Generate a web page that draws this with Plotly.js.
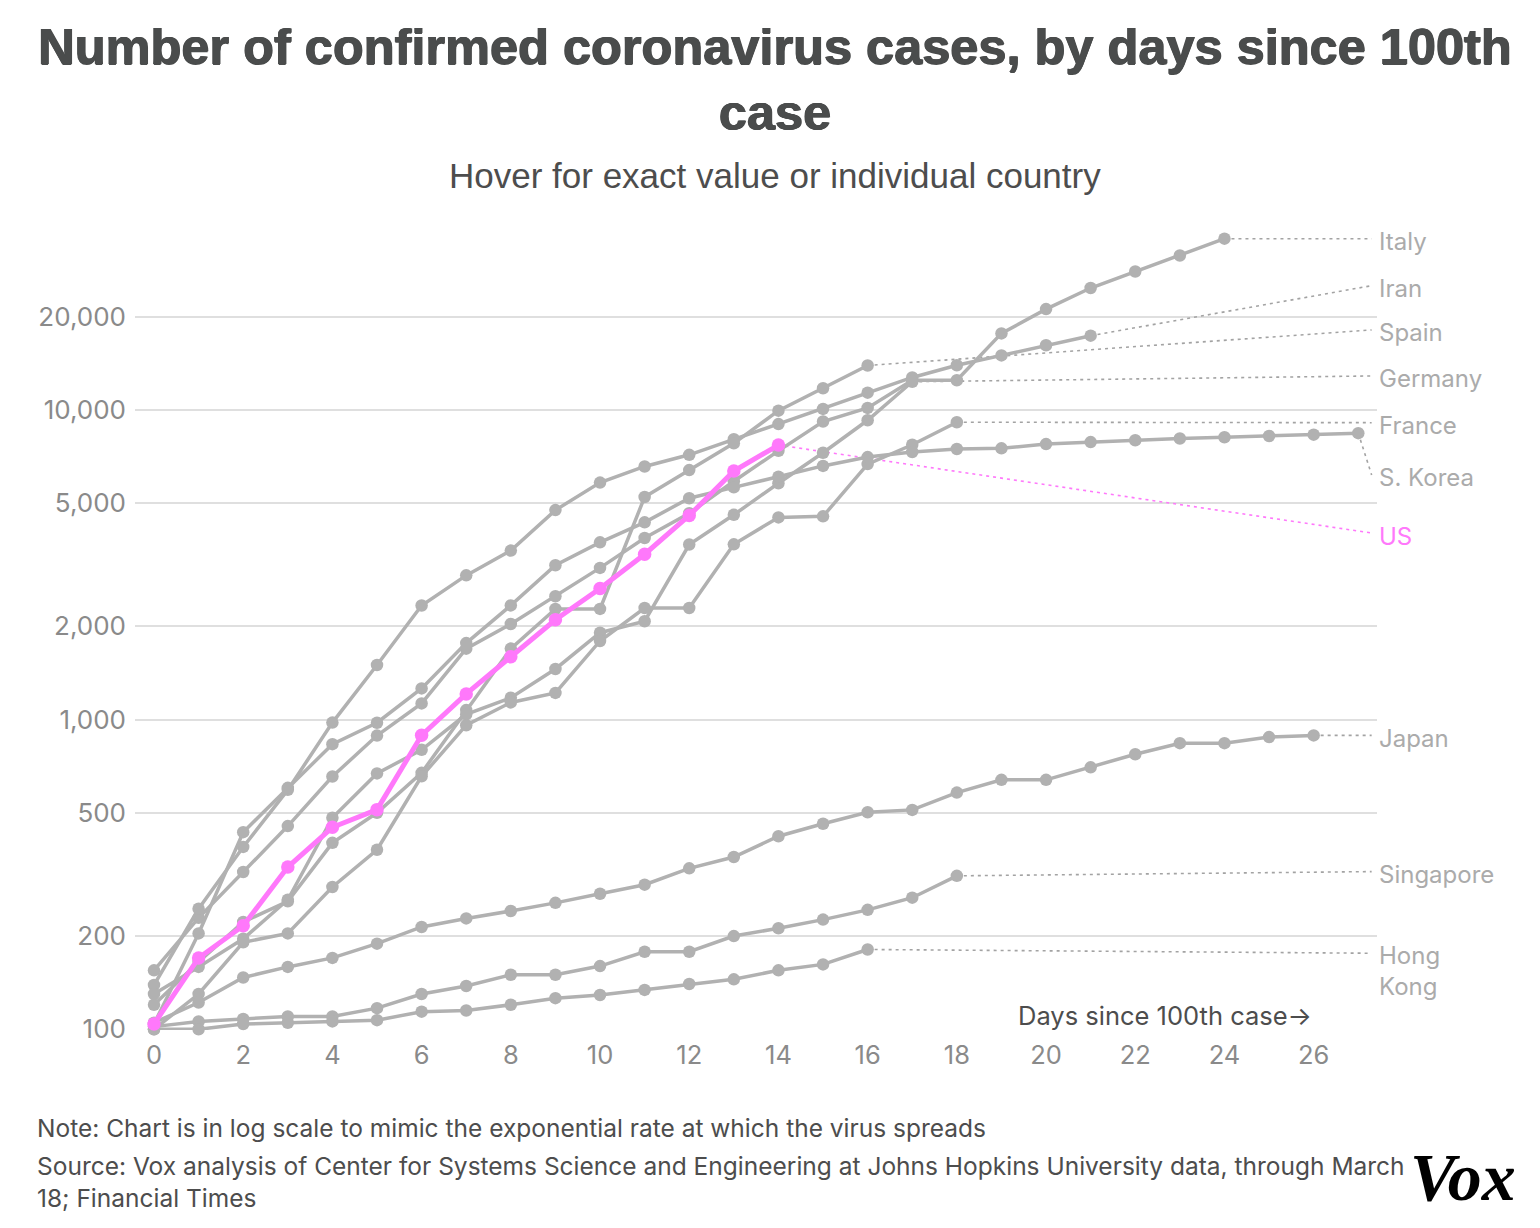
<!DOCTYPE html>
<html>
<head>
<meta charset="utf-8">
<script src="https://cdn.plot.ly/plotly-3.0.1.min.js"></script>
<style>
  html, body { margin: 0; padding: 0; background: #ffffff; }
  #chart { width: 1540px; height: 1228px; }
</style>
</head>
<body>
<div id="chart"></div>
<script>
// ---------------- DATA ----------------
const countries = ['Italy', 'Iran', 'Spain', 'Germany', 'France', 'S. Korea', 'US', 'Japan', 'Singapore', 'Hong Kong'];
const labelText = ['Italy', 'Iran', 'Spain', 'Germany', 'France', 'S. Korea', 'US', 'Japan', 'Singapore', 'Hong<br>Kong'];

// confirmed cases, index = days since 100th case
const italy = [155, 229, 322, 453, 655, 888, 1128, 1694, 2036, 2502, 3089, 3858, 4636, 5883, 7375, 9172, 10149, 12462, 12462, 17660, 21157, 24747, 27980, 31506, 35713];
const iran = [139, 245, 388, 593, 978, 1501, 2336, 2922, 3513, 4747, 5823, 6566, 7161, 8042, 9000, 10075, 11364, 12729, 13938, 14991, 16169, 17361];
const spain = [120, 165, 222, 259, 400, 500, 673, 1073, 1695, 2277, 2277, 5232, 6391, 7798, 9942, 11748, 13910];
const germany = [130, 159, 196, 262, 482, 670, 799, 1040, 1176, 1457, 1908, 2078, 3675, 4585, 5795, 7272, 9257, 12327];
const france = [100, 130, 191, 204, 288, 380, 656, 959, 1136, 1219, 1794, 2293, 2293, 3681, 4496, 4532, 6683, 7715, 9124];
const sKorea = [104, 204, 433, 602, 833, 977, 1261, 1766, 2337, 3150, 3736, 4335, 5186, 5621, 6088, 6593, 7041, 7314, 7478, 7513, 7755, 7869, 7979, 8086, 8162, 8236, 8320, 8413];
const us = [104, 170, 216, 334, 449, 512, 890, 1210, 1595, 2100, 2650, 3420, 4560, 6350, 7700];
const japan = [105, 122, 147, 159, 170, 189, 214, 228, 241, 256, 274, 293, 331, 360, 420, 461, 502, 511, 581, 639, 639, 701, 773, 839, 839, 878, 889];
const singapore = [102, 106, 108, 110, 110, 117, 130, 138, 150, 150, 160, 178, 178, 200, 212, 226, 243, 266, 313];
const hongKong = [100, 100, 104, 105, 106, 107, 114, 115, 120, 126, 129, 134, 140, 145, 155, 162, 181];

const seriesValues = [italy, iran, spain, germany, france, sKorea, us, japan, singapore, hongKong];

// value where each dotted leader line meets its country label
const labelAnchor = [35713, 25180, 18120, 12870, 9093, 6164, 4004, 889, 323, 176];
const labelDay = 27.3;

const yTickVals = [100, 200, 500, 1000, 2000, 5000, 10000, 20000];
const yTickText = ['100', '200', '500', '1,000', '2,000', '5,000', '10,000', '20,000'];
const xTickVals = [0, 2, 4, 6, 8, 10, 12, 14, 16, 18, 20, 22, 24, 26];
const xTickText = ['0', '2', '4', '6', '8', '10', '12', '14', '16', '18', '20', '22', '24', '26'];

// ---------------- STYLE ----------------
const GRAY = '#b1b1b1';
const PINK = '#ff78fb';
const LEADER = '#a3a3a3';
const highlight = 'US';
const BODY_FONT = 'Inter, "Noto Sans", sans-serif';
const TITLE_COLOR = '#4a4c4c';

// plot area in pixels
const PL = 135, PT = 225, PW = 1242, PH = 805;
const px = x => (x - PL) / PW;
const py = y => (PT + PH - y) / PH;

const traces = [];

// leader (dotted) lines first
countries.forEach((c, i) => {
  const vals = seriesValues[i];
  const last = vals.length - 1;
  traces.push({
    type: 'scatter', mode: 'lines',
    x: [last, labelDay], y: [vals[last], labelAnchor[i]],
    line: { color: c === highlight ? PINK : LEADER, width: 1.6, dash: '3px,4px' },
    hoverinfo: 'skip', showlegend: false, cliponaxis: false
  });
});

// gray country lines
countries.forEach((c, i) => {
  if (c === highlight) return;
  const vals = seriesValues[i];
  traces.push({
    type: 'scatter', mode: 'lines+markers', name: c,
    x: vals.map((_, d) => d), y: vals,
    line: { color: GRAY, width: 3.5 },
    marker: { color: GRAY, size: 12.5 },
    showlegend: false, cliponaxis: false,
    hovertemplate: c + '<br>Day %{x}: %{y:,}<extra></extra>'
  });
});

// highlighted US line on top
{
  const i = countries.indexOf(highlight);
  const vals = seriesValues[i];
  traces.push({
    type: 'scatter', mode: 'lines+markers', name: highlight,
    x: vals.map((_, d) => d), y: vals,
    line: { color: PINK, width: 5 },
    marker: { color: PINK, size: 13.5 },
    showlegend: false, cliponaxis: false,
    hovertemplate: highlight + '<br>Day %{x}: %{y:,}<extra></extra>'
  });
}

const annotations = [];

// country labels
countries.forEach((c, i) => {
  const isHK = c === 'Hong Kong';
  annotations.push({
    xref: 'x', yref: 'y', x: labelDay, y: Math.log10(labelAnchor[i]),
    text: labelText[i], showarrow: false,
    xanchor: 'left', yanchor: isHK ? 'top' : 'middle', align: 'left',
    xshift: 5, yshift: isHK ? 14 : -3,
    font: { family: BODY_FONT, size: 24, color: c === highlight ? PINK : '#ababab' }
  });
});

// subtitle
annotations.push({
  xref: 'paper', yref: 'paper', x: px(775), y: py(175),
  text: 'Hover for exact value or individual country', showarrow: false,
  xanchor: 'center', yanchor: 'middle',
  font: { family: '"Liberation Sans", Arial, sans-serif', size: 35, color: '#4d4d4d' }
});
// axis note
annotations.push({
  xref: 'paper', yref: 'paper', x: px(1314), y: py(1015),
  text: 'Days since 100th case→', showarrow: false,
  xanchor: 'right', yanchor: 'middle',
  font: { family: BODY_FONT, size: 25.5, color: '#4d4d4d' }
});
// footer note
annotations.push({
  xref: 'paper', yref: 'paper', x: px(35), y: py(1128),
  text: 'Note: Chart is in log scale to mimic the exponential rate at which the virus spreads', showarrow: false,
  xanchor: 'left', yanchor: 'middle', align: 'left',
  font: { family: BODY_FONT, size: 24.5, color: '#4d4d4d' }
});
// footer source
annotations.push({
  xref: 'paper', yref: 'paper', x: px(35), y: py(1149),
  text: 'Source: Vox analysis of Center for Systems Science and Engineering at Johns Hopkins University data, through March<br>18; Financial Times',
  showarrow: false, xanchor: 'left', yanchor: 'top', align: 'left',
  font: { family: BODY_FONT, size: 24.5, color: '#4d4d4d' }
});
// Vox logo
annotations.push({
  xref: 'paper', yref: 'paper', x: px(1463), y: py(1177),
  text: 'Vox', showarrow: false, xanchor: 'center', yanchor: 'middle',
  font: { family: '"Liberation Serif", "DejaVu Serif", serif', size: 68, weight: 'bold', style: 'italic', color: '#000000' }
});

const layout = {
  width: 1540, height: 1228,
  paper_bgcolor: '#ffffff', plot_bgcolor: '#ffffff',
  margin: { l: PL, r: 1540 - PL - PW, t: PT, b: 1228 - PT - PH, pad: 0 },
  title: {
    text: 'Number of confirmed coronavirus cases, by days since 100th<br>case',
    xref: 'container', x: 775 / 1540, xanchor: 'center',
    yref: 'container', y: 1 - 64 / 1228, yanchor: 'middle',
    font: {
      family: '"Liberation Sans", Arial, sans-serif', size: 50.5, weight: 'bold', color: TITLE_COLOR,
      shadow: '0.7px 0 0 ' + TITLE_COLOR + ', -0.7px 0 0 ' + TITLE_COLOR + ', 0 0.5px 0 ' + TITLE_COLOR
    }
  },
  showlegend: false,
  hovermode: 'closest',
  xaxis: {
    range: [-0.426, 27.42],
    tickvals: xTickVals, ticktext: xTickText,
    showgrid: false, zeroline: false, showline: false, ticks: '',
    tickfont: { family: BODY_FONT, size: 25.5, color: '#8a8a8a' },
    ticklabelstandoff: 7
  },
  yaxis: {
    type: 'log',
    range: [1.9977, 4.597],
    tickvals: yTickVals, ticktext: yTickText,
    showgrid: true, gridcolor: '#dfdfdf', gridwidth: 2,
    zeroline: false, showline: false, ticks: '',
    tickfont: { family: BODY_FONT, size: 26, color: '#8a8a8a' },
    ticklabelstandoff: 8
  },
  annotations: annotations
};

Plotly.newPlot('chart', traces, layout, { displayModeBar: false, responsive: false });
</script>
</body>
</html>
